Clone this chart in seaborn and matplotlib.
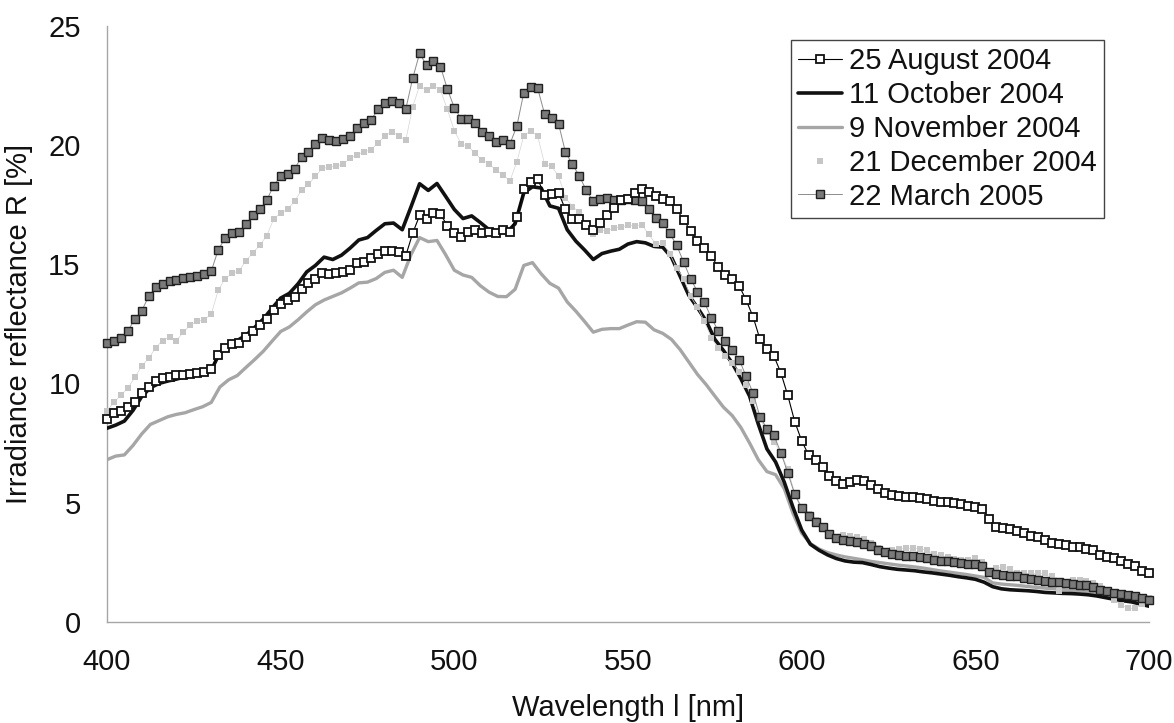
""" Irradiance reflectance spectra for five sampling dates """

#%% import modules
import numpy as np
import matplotlib
matplotlib.use('Agg')
import matplotlib.pyplot as plt
from matplotlib.lines import Line2D
import seaborn as sns

sns.set_theme(style='white')
plt.rcParams['font.family'] = ['Liberation Sans', 'DejaVu Sans']

#%% data
# wavelength grids (nm)
wl_marker = np.arange(400, 701, 2)      # series drawn with markers
wl_line = np.arange(400, 700.1, 2.5)    # plain line series

labels = ['25 August 2004', '11 October 2004', '9 November 2004',
          '21 December 2004', '22 March 2005']

aug_2004 = [
    8.5, 8.75, 8.85, 9.0, 9.2, 9.58, 9.85, 10.12, 10.22, 10.28,
    10.34, 10.37, 10.4, 10.42, 10.46, 10.6, 11.2, 11.5, 11.66, 11.68,
    11.95, 12.22, 12.45, 12.7, 13.08, 13.35, 13.5, 13.62, 13.95, 14.2,
    14.38, 14.62, 14.6, 14.64, 14.68, 14.74, 15.05, 15.1, 15.25, 15.43,
    15.55, 15.57, 15.5, 15.35, 16.3, 17.05, 16.88, 17.15, 17.1, 16.62,
    16.32, 16.15, 16.35, 16.43, 16.3, 16.37, 16.3, 16.45, 16.36, 17.0,
    18.15, 18.45, 18.58, 17.9, 17.95, 18.0, 17.3, 16.92, 16.92, 16.65,
    16.45, 16.75, 17.05, 17.35, 17.68, 17.76, 18.0, 18.15, 18.05, 17.85,
    17.76, 17.65, 17.3, 16.87, 16.4, 15.98, 15.7, 15.35, 14.87, 14.55,
    14.38, 14.1, 13.5, 12.8, 11.85, 11.45, 11.15, 10.45, 9.5, 8.4,
    7.59, 7.0, 6.8, 6.5, 6.13, 5.92, 5.78, 5.85, 5.94, 5.9,
    5.72, 5.55, 5.42, 5.33, 5.28, 5.25, 5.22, 5.19, 5.15, 5.08,
    5.04, 5.03, 4.99, 4.92, 4.87, 4.82, 4.72, 4.33, 3.98, 3.95,
    3.87, 3.8, 3.71, 3.6, 3.54, 3.42, 3.32, 3.28, 3.2, 3.15,
    3.12, 3.06, 3.0, 2.78, 2.71, 2.66, 2.55, 2.42, 2.32, 2.14,
    2.05]

oct_2004 = [
    8.12, 8.25, 8.42, 8.87, 9.45, 9.82, 10.0, 10.1,
    10.18, 10.28, 10.35, 10.43, 10.55, 11.3, 11.62, 11.8,
    12.02, 12.35, 12.7, 13.15, 13.58, 13.78, 14.18, 14.68,
    14.95, 15.3, 15.2, 15.38, 15.68, 16.02, 16.12, 16.42,
    16.7, 16.73, 16.45, 17.4, 18.38, 18.1, 18.39, 17.85,
    17.3, 16.92, 17.03, 16.75, 16.45, 16.4, 16.32, 16.7,
    18.0, 18.25, 18.2, 17.45, 17.35, 16.45, 15.97, 15.6,
    15.2, 15.45, 15.55, 15.63, 15.85, 15.95, 15.9, 15.75,
    15.72, 15.3, 14.5, 13.7, 13.18, 12.62, 11.85, 11.38,
    10.85, 10.2, 9.47, 8.3, 7.25, 6.7, 5.85, 4.8,
    3.85, 3.25, 3.0, 2.8, 2.65, 2.55, 2.5, 2.48,
    2.4, 2.31, 2.25, 2.2, 2.17, 2.14, 2.09, 2.05,
    2.0, 1.95, 1.89, 1.84, 1.78, 1.66, 1.47, 1.38,
    1.34, 1.32, 1.3, 1.27, 1.23, 1.21, 1.19, 1.18,
    1.16, 1.13, 1.08, 1.01, 0.94, 0.88, 0.83, 0.74,
    0.65]

nov_2004 = [
    6.8, 6.95, 7.0, 7.4, 7.88, 8.28, 8.44, 8.6,
    8.7, 8.77, 8.9, 9.02, 9.2, 9.85, 10.15, 10.33,
    10.67, 11.0, 11.35, 11.77, 12.18, 12.37, 12.67, 13.0,
    13.3, 13.5, 13.65, 13.8, 14.0, 14.22, 14.25, 14.4,
    14.66, 14.75, 14.45, 15.4, 16.12, 15.95, 16.0, 15.4,
    14.75, 14.55, 14.45, 14.1, 13.83, 13.65, 13.64, 13.95,
    14.95, 15.07, 14.6, 14.2, 14.0, 13.42, 13.03, 12.6,
    12.15, 12.27, 12.3, 12.3, 12.45, 12.59, 12.57, 12.25,
    12.1, 11.85, 11.42, 10.9, 10.38, 9.95, 9.47, 9.0,
    8.65, 8.15, 7.5, 6.8, 6.3, 6.17, 5.58, 4.55,
    3.72, 3.28, 3.05, 2.9, 2.8, 2.72, 2.66, 2.6,
    2.53, 2.48, 2.43, 2.38, 2.34, 2.3, 2.25, 2.19,
    2.13, 2.08, 2.03, 1.98, 1.92, 1.86, 1.63, 1.58,
    1.55, 1.52, 1.48, 1.44, 1.41, 1.38, 1.35, 1.32,
    1.3, 1.26, 1.2, 1.11, 1.04, 0.97, 0.9, 0.82,
    0.75]

dec_2004 = [
    8.85, 9.2, 9.5, 9.8, 10.25, 10.73, 11.05, 11.5, 11.8, 11.95,
    11.8, 12.15, 12.45, 12.6, 12.68, 12.9, 13.9, 14.4, 14.62, 14.72,
    15.15, 15.48, 15.8, 16.2, 16.9, 17.15, 17.3, 17.65, 18.1, 18.35,
    18.7, 19.03, 19.07, 19.13, 19.2, 19.45, 19.6, 19.72, 19.8, 20.1,
    20.38, 20.56, 20.4, 20.2, 21.6, 22.5, 22.3, 22.5, 22.3, 21.5,
    20.6, 20.05, 19.95, 19.65, 19.37, 19.22, 18.95, 18.75, 18.5, 19.3,
    20.4, 20.6, 20.38, 19.2, 19.12, 18.7, 17.8, 17.41, 17.2, 16.65,
    16.28, 16.43, 16.4, 16.53, 16.56, 16.64, 16.6, 16.66, 16.25, 15.85,
    15.9, 15.45, 14.85, 14.4, 13.65, 13.2, 12.6, 11.9, 11.47, 11.15,
    10.85, 10.5, 9.95, 9.25, 8.5, 7.98, 7.55, 7.1, 6.4, 5.4,
    4.8, 4.5, 4.25, 3.97, 3.65, 3.55, 3.62, 3.6, 3.57, 3.45,
    3.3, 3.1, 2.98, 3.0, 3.05, 3.08, 3.08, 3.05, 3.0, 2.85,
    2.8, 2.7, 2.62, 2.6, 2.59, 2.66, 2.5, 2.1, 2.25, 2.31,
    2.2, 2.05, 2.03, 2.03, 2.03, 2.03, 1.9, 1.3, 1.6, 1.75,
    1.75, 1.7, 1.62, 1.5, 1.2, 0.9, 0.7, 0.56, 0.56, 0.75,
    0.98]

mar_2005 = [
    11.68, 11.8, 11.9, 12.2, 12.7, 13.05, 13.65, 14.05, 14.17, 14.28,
    14.34, 14.42, 14.48, 14.52, 14.6, 14.7, 15.6, 16.1, 16.3, 16.35,
    16.7, 17.05, 17.3, 17.7, 18.3, 18.7, 18.8, 19.0, 19.5, 19.72,
    20.05, 20.3, 20.2, 20.17, 20.25, 20.37, 20.7, 20.95, 21.05, 21.5,
    21.75, 21.85, 21.75, 21.5, 22.8, 23.85, 23.35, 23.55, 23.3, 22.35,
    21.57, 21.1, 21.1, 20.95, 20.56, 20.4, 20.15, 20.2, 20.05, 20.8,
    22.2, 22.45, 22.38, 21.3, 21.15, 20.9, 19.7, 19.2, 18.7, 18.1,
    17.65, 17.73, 17.8, 17.7, 17.68, 17.72, 17.7, 17.65, 17.3, 16.95,
    16.72, 16.3, 15.8, 15.1, 14.4, 13.85, 13.4, 12.75, 12.2, 11.8,
    11.4, 11.0, 10.3, 9.6, 8.6, 8.1, 7.83, 7.1, 6.25, 5.35,
    4.76, 4.43, 4.2, 3.96, 3.7, 3.52, 3.42, 3.4, 3.36, 3.25,
    3.17, 3.0, 2.93, 2.85, 2.79, 2.76, 2.75, 2.72, 2.67, 2.6,
    2.55, 2.54, 2.5, 2.48, 2.44, 2.41, 2.34, 2.1, 1.99, 1.95,
    1.92, 1.9, 1.84, 1.81, 1.76, 1.71, 1.68, 1.65, 1.63, 1.59,
    1.56, 1.53, 1.45, 1.33, 1.29, 1.22, 1.17, 1.11, 1.06, 1.01,
    0.9]

#%% styles
fs = 21
aug_style = dict(color='black', linewidth=0.8, marker='s', markersize=5.6,
                 markerfacecolor='white', markeredgecolor='#111111', markeredgewidth=1.3)
oct_style = dict(color='#111111', linewidth=2.6)
nov_style = dict(color='#a6a6a6', linewidth=2.4)
dec_style = dict(color='#d4d4d4', linewidth=0.5, marker='s', markersize=5.0,
                 markerfacecolor='#c6c6c6', markeredgecolor='#c6c6c6', markeredgewidth=0.0)
mar_style = dict(color='#8c8c8c', linewidth=0.7, marker='s', markersize=5.2,
                 markerfacecolor='#7a7a7a', markeredgecolor='#202020', markeredgewidth=1.0)

#%% plot
fig = plt.figure(figsize=(11.74, 7.23), dpi=100)
ax = fig.add_axes([107 / 1174, 1 - 621.7 / 723, 1042 / 1174, 595.7 / 723])

sns.lineplot(x=wl_line, y=nov_2004, ax=ax, zorder=2, **nov_style)
sns.lineplot(x=wl_line, y=oct_2004, ax=ax, zorder=3, **oct_style)
sns.lineplot(x=wl_marker, y=dec_2004, ax=ax, zorder=4, clip_on=False, **dec_style)
sns.lineplot(x=wl_marker, y=mar_2005, ax=ax, zorder=5, clip_on=False, **mar_style)
sns.lineplot(x=wl_marker, y=aug_2004, ax=ax, zorder=6, clip_on=False, **aug_style)

ax.set_xlim(400, 700)
ax.set_ylim(0, 25)
ax.set_xticks(np.arange(400, 701, 50))
ax.set_yticks(np.arange(0, 26, 5))

for side in ['top', 'right']:
    ax.spines[side].set_visible(False)
for side in ['left', 'bottom']:
    ax.spines[side].set_color('#a6a6a6')
    ax.spines[side].set_linewidth(1.0)

ax.tick_params(axis='both', direction='out', color='#a6a6a6', width=1.0,
               labelsize=fs, labelcolor='#111111')
ax.tick_params(axis='x', length=9, pad=10)
ax.tick_params(axis='y', length=10, pad=9)

ax.set_xlabel('Wavelength l [nm]', fontsize=fs, color='#111111')
ax.set_ylabel('Irradiance reflectance R [%]', fontsize=fs, color='#111111')
ax.xaxis.set_label_coords(0.5, -0.122)
ax.yaxis.set_label_coords(-0.071, 0.5)

# legend: December shows only its marker
handles = [
    Line2D([], [], **aug_style),
    Line2D([], [], **oct_style),
    Line2D([], [], **nov_style),
    Line2D([], [], linestyle='none', marker='s', markersize=5.0,
           markerfacecolor='#c6c6c6', markeredgewidth=0.0),
    Line2D([], [], **mar_style),
]
leg = ax.legend(handles, labels, loc='upper right', bbox_to_anchor=(0.9568, 0.9765),
                borderaxespad=0, fontsize=fs, frameon=True, fancybox=False,
                framealpha=1, edgecolor='#444444', handlelength=1.5,
                handletextpad=0.25, borderpad=0.25, labelspacing=0.2, numpoints=1)
leg.get_frame().set_linewidth(1.0)
for t in leg.get_texts():
    t.set_color('#111111')

fig.savefig('out.png', dpi=100)
